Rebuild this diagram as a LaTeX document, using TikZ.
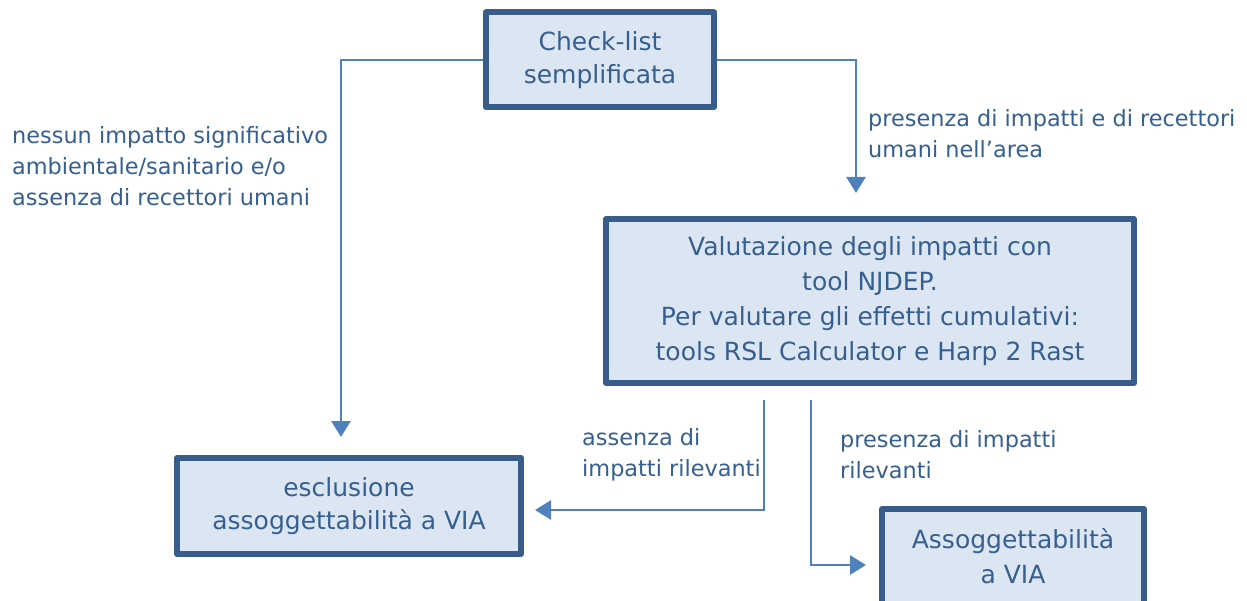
\documentclass[tikz,border=0pt]{standalone}
\usepackage{fontspec}
\setmainfont{DejaVu Sans}
\usetikzlibrary{arrows.meta,calc}
\definecolor{boxfill}{RGB}{220,230,242}
\definecolor{boxline}{RGB}{56,93,138}
\definecolor{connline}{RGB}{79,129,189}
\definecolor{txt}{RGB}{54,95,145}
\tikzset{
  stepbox/.style={draw=boxline, fill=boxfill, line width=6pt, line join=round,
    align=center, text=txt, inner sep=0pt, font=\fontsize{25}{33}\selectfont},
  conn/.style={draw=connline, line width=2.8pt,
    -{Triangle[length=16pt,width=19pt]}},
  lbl/.style={text=txt, align=left, inner sep=0pt, anchor=north west,
    font=\fontsize{22.4}{31}\selectfont}
}
\begin{document}
\begin{tikzpicture}[x=1pt,y=-1pt]
\useasboundingbox (0,0) rectangle (1247,601);

% boxes
\node[stepbox, minimum width=228pt, minimum height=95pt] (top) at (600,60)
  {Check-list\\semplificata};
\node[stepbox, minimum width=528pt, minimum height=164pt,
  font=\fontsize{25}{35}\selectfont] (mid) at (870,301)
  {Valutazione degli impatti con\\tool NJDEP.\\Per valutare gli effetti cumulativi:\\tools RSL Calculator e Harp 2 Rast};
\node[stepbox, minimum width=344pt, minimum height=96pt] (excl) at (349,506)
  {esclusione\\assoggettabilità a VIA};
\node[stepbox, minimum width=262pt, minimum height=112pt, text depth=19pt,
  font=\fontsize{25}{35}\selectfont] (assog) at (1013,565)
  {Assoggettabilità\\a VIA};

% connectors
\draw[conn, shorten >=18pt] (top.west) -| ($(excl.north)+(-8,0)$);
\draw[conn, shorten >=23pt] (top.east) -| ($(mid.north)+(-14,0)$);
\draw[conn, shorten <=14pt, shorten >=11pt] ($(mid.south)+(-106,0)$) |- ($(excl.east)+(0,4)$);
\draw[conn, shorten <=14pt, shorten >=13pt] ($(mid.south)+(-59,0)$) |- (assog.west);

% labels
\node[lbl] (l1) at (12,126)
  {nessun impatto significativo\\ambientale/sanitario e/o\\assenza di recettori umani};
\node[lbl] (l2) at (868,109)
  {presenza di impatti e di recettori\\umani nell’area};
\node[lbl] (l3) at (582,428)
  {assenza di\\impatti rilevanti};
\node[lbl] (l4) at (840,430)
  {presenza di impatti\\rilevanti};
\end{tikzpicture}
\end{document}
